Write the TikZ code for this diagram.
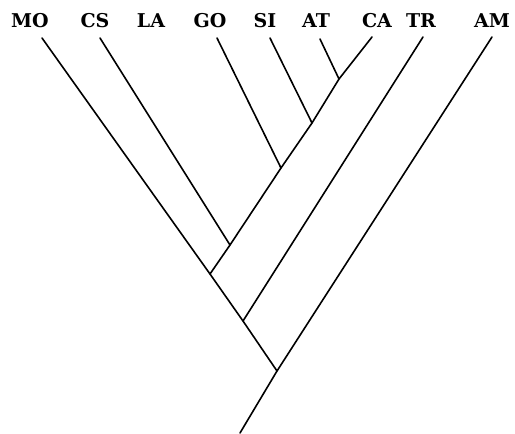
\documentclass[tikz,border=0pt]{standalone}
\usepackage{fontspec}
\newfontfamily\labelfont{DejaVu Serif}
\begin{document}
\begin{tikzpicture}[x=1pt,y=-1pt,
  taxon/.style={anchor=base,inner sep=0pt,font=\labelfont\bfseries\fontsize{19}{19}\selectfont},
  branch/.style={line width=1.6pt,line join=round,line cap=round}]
\useasboundingbox (0,0) rectangle (515,434);
% labels
\node[taxon] (MO) at (30,27) {MO};
\node[taxon] (CS) at (95,27) {CS};
\node[taxon] (LA) at (151,27) {LA};
\node[taxon] (GO) at (210,27) {GO};
\node[taxon] (SI) at (265,27) {SI};
\node[taxon] (AT) at (316,27) {AT};
\node[taxon] (CA) at (377,27) {CA};
\node[taxon] (TR) at (421,27) {TR};
\node[taxon] (AM) at (492,27) {AM};
% branch tips
\coordinate (tMO) at (42,38);
\coordinate (tCS) at (100,38);
\coordinate (tGO) at (217,38);
\coordinate (tSI) at (270,38);
\coordinate (tAT) at (320,39);
\coordinate (tCA) at (372,37);
\coordinate (tTR) at (423,37);
\coordinate (tAM) at (492,37);
% junctions
\coordinate (j1) at (339,79);
\coordinate (j2) at (312,123);
\coordinate (j3) at (281,168);
\coordinate (j4) at (230,245);
\coordinate (j5) at (210,274);
\coordinate (j6) at (243,321);
\coordinate (j7) at (277,371);
\coordinate (root) at (240,433);
% branches
\draw[branch] (tMO) -- (j5) -- (j6) -- (j7);
\draw[branch] (tCA) -- (j1) -- (j2) -- (j3) -- (j4) -- (j5);
\draw[branch] (tAT) -- (j1);
\draw[branch] (tSI) -- (j2);
\draw[branch] (tGO) -- (j3);
\draw[branch] (tCS) -- (j4);
\draw[branch] (tTR) -- (j6);
\draw[branch] (tAM) -- (j7) -- (root);
\end{tikzpicture}
\end{document}
